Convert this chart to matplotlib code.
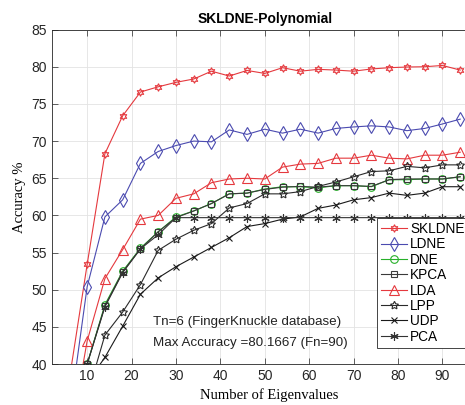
import matplotlib
matplotlib.use("Agg")
import matplotlib.pyplot as plt

eig = [6, 10, 14, 18, 22, 26, 30, 34, 38, 42, 46, 50, 54, 58, 62, 66, 70, 74, 78, 82, 86, 90, 94]

skldne = [38.0, 53.4, 68.3, 73.4, 76.6, 77.3, 77.9, 78.35, 79.4, 78.75, 79.5, 79.1, 79.87, 79.4,
          79.65, 79.55, 79.4, 79.7, 79.87, 79.96, 80.0, 80.17, 79.55]
ldne = [33.0, 50.4, 59.8, 62.1, 67.0, 68.6, 69.4, 70.0, 69.9, 71.5, 70.9, 71.6, 71.07, 71.6,
        71.07, 71.7, 71.9, 72.05, 71.9, 71.4, 71.7, 72.3, 72.95]
dne = [32.0, 40.0, 48.0, 52.5, 55.6, 57.8, 59.8, 60.6, 61.6, 62.9, 63.0, 63.55, 63.86, 63.86,
       63.7, 64.0, 64.0, 63.86, 64.8, 64.8, 64.9, 64.9, 65.2]
kpca = [32.0, 40.0, 47.8, 52.4, 55.5, 57.8, 59.7, 60.6, 61.6, 62.9, 63.0, 63.5, 63.8, 63.9,
        63.8, 64.0, 64.0, 63.9, 64.8, 64.9, 64.9, 64.9, 65.2]
lda = [29.5, 43.1, 51.5, 55.4, 59.5, 60.0, 62.3, 62.9, 64.4, 64.9, 65.0, 64.9, 66.5, 66.9,
       67.0, 67.7, 67.7, 68.1, 67.7, 67.6, 68.1, 68.1, 68.5]
lpp = [28.0, 35.7, 43.9, 47.0, 50.7, 55.3, 56.8, 58.0, 58.9, 61.0, 61.6, 62.9, 62.9, 63.2,
       63.9, 64.5, 65.2, 65.9, 66.0, 66.6, 66.4, 66.8, 66.8]
udp = [30.0, 37.5, 40.9, 45.1, 49.4, 51.6, 53.1, 54.4, 55.7, 57.0, 58.5, 58.9, 59.5, 59.8,
       60.95, 61.4, 62.1, 62.4, 63.0, 62.7, 63.0, 63.86, 63.86]
pca = [32.0, 40.0, 47.7, 52.3, 55.5, 57.4, 59.7, 59.7, 59.7, 59.7, 59.7, 59.7, 59.7, 59.7,
       59.7, 59.7, 59.7, 59.7, 59.7, 59.7, 59.7, 59.7, 59.7]

series = [
    ("SKLDNE", skldne, "#e5393e", (6, 1, 0), 5.5),
    ("LDNE", ldne, "#4b4bb0", "d", 7),
    ("DNE", dne, "#27b02a", "o", 5.5),
    ("KPCA", kpca, "#3a3a3a", "s", 4.5),
    ("LDA", lda, "#e5393e", "^", 6.5),
    ("LPP", lpp, "#2a2a2a", (5, 1, 0), 6),
    ("UDP", udp, "#1a1a1a", "x", 4.5),
    ("PCA", pca, "#333333", (6, 2, 0), 6),
]

xticks = [10, 20, 30, 40, 50, 60, 70, 80, 90]
yticks = [40, 45, 50, 55, 60, 65, 70, 75, 80, 85]

fig = plt.figure(figsize=(4.65, 4.05), dpi=100)
ax = fig.add_axes([0.111, 0.101, 0.936, 0.826])

for name, vals, col, mk, ms in series:
    ax.plot(eig, vals, color=col, marker=mk, markersize=ms, markerfacecolor="none",
            markeredgecolor=col, linewidth=0.8, markeredgewidth=0.8, label=name)

ax.set_xlim(2, 100)
ax.set_ylim(40, 85)
ax.set_xticks(xticks)
ax.set_yticks(yticks)
ax.grid(True, color="#e3e3e3", linewidth=0.6)
ax.set_axisbelow(True)
ax.tick_params(direction="in", top=True, right=False, length=4, width=0.5,
               colors="#262626", labelsize=10)
for lab in ax.get_xticklabels() + ax.get_yticklabels():
    lab.set_fontfamily("Liberation Sans")
for s in ax.spines.values():
    s.set_color("#262626")
    s.set_linewidth(0.6)

ax.set_title("SKLDNE-Polynomial", fontsize=10, fontweight="bold",
             fontfamily="Liberation Sans", pad=5, x=0.49)
ax.set_xlabel("Number of Eigenvalues", fontsize=10.5, fontfamily="Liberation Serif",
              labelpad=4)
ax.set_ylabel("Accuracy %", fontsize=10.5, fontfamily="Liberation Serif", labelpad=4)

ax.text(24.8, 45.6, "Tn=6 (FingerKnuckle database)", fontsize=9.6,
        fontfamily="Liberation Sans", va="center", color="#222222")
ax.text(24.8, 42.9, "Max Accuracy =80.1667 (Fn=90)", fontsize=9.6,
        fontfamily="Liberation Sans", va="center", color="#222222")

leg = ax.legend(loc="upper left", bbox_to_anchor=(377 / 465, 1 - 218 / 405),
                bbox_transform=fig.transFigure, prop={"family": "Liberation Sans", "size": 9.8},
                handlelength=1.9, handletextpad=0.25, labelspacing=0.1, borderpad=0.3,
                fancybox=False, framealpha=1, edgecolor="#262626", borderaxespad=0)
leg.get_frame().set_linewidth(0.6)

fig.savefig("out.png", dpi=100)
